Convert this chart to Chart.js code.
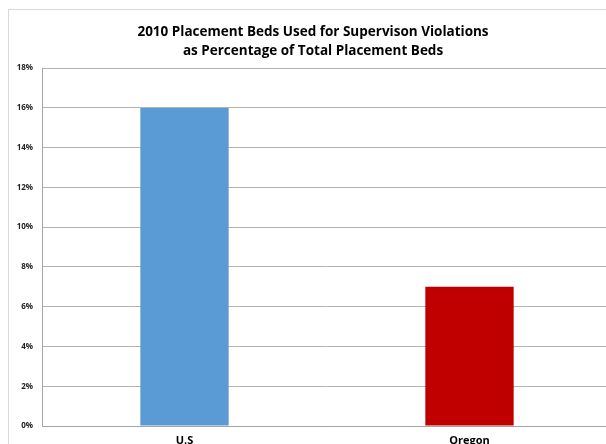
<!DOCTYPE html>
<html>
<head>
<meta charset="utf-8">
<script src="https://cdn.jsdelivr.net/npm/chart.js@4"></script>
<style>
  html, body { margin: 0; padding: 0; background: #fff; }
  #wrap { position: relative; width: 606px; height: 444px; overflow: hidden; }
  #frame { position: absolute; left: 8px; top: 9px; width: 700px; height: 500px; border: 1px solid #d9d9d9; }
  #holder { position: absolute; left: 0; top: 0; width: 626px; height: 444px; }
</style>
</head>
<body>
<div id="wrap">
  <div id="frame"></div>
  <div id="holder"><canvas id="myChart" width="626" height="444"></canvas></div>
</div>
<script>
  const labels = ['U.S', 'Oregon'];
  const percentages = [16, 7];
  const barColors = ['#5B9BD5', '#C00000'];

  const ctx = document.getElementById('myChart');

  const chart = new Chart(ctx, {
    type: 'bar',
    data: {
      labels: labels,
      datasets: [{
        data: percentages,
        backgroundColor: barColors,
        borderWidth: 0,
        categoryPercentage: 1,
        barPercentage: 0.31
      }]
    },
    options: {
      responsive: false,
      animation: false,
      layout: { padding: { left: 14, right: 14, top: 0, bottom: 0 } },
      plugins: {
        legend: { display: false },
        tooltip: { enabled: false },
        title: {
          display: true,
          text: ['2010 Placement Beds Used for Supervison Violations', 'as Percentage of Total Placement Beds'],
          color: '#000',
          font: { family: 'Open Sans', size: 13.5, weight: 'bold', lineHeight: 1.45 },
          padding: { top: 22, bottom: 7 }
        }
      },
      scales: {
        x: {
          grid: { display: false },
          border: { color: '#a6a6a6', width: 1 },
          ticks: {
            color: '#000',
            font: { family: 'Open Sans', size: 11, weight: 'bold' },
            padding: 0
          },
          afterFit: (scale) => { scale.height = 18; }
        },
        y: {
          min: 0,
          max: 18,
          ticks: {
            stepSize: 2,
            color: '#222',
            font: { family: 'Open Sans', size: 8, weight: 'bold' },
            padding: 9,
            callback: (v) => v + '%'
          },
          grid: { color: '#b3b3b3', lineWidth: 1, drawTicks: false },
          border: { color: '#a6a6a6', width: 1 },
          afterFit: (scale) => { scale.width = 28; }
        }
      }
    }
  });
</script>
</body>
</html>
